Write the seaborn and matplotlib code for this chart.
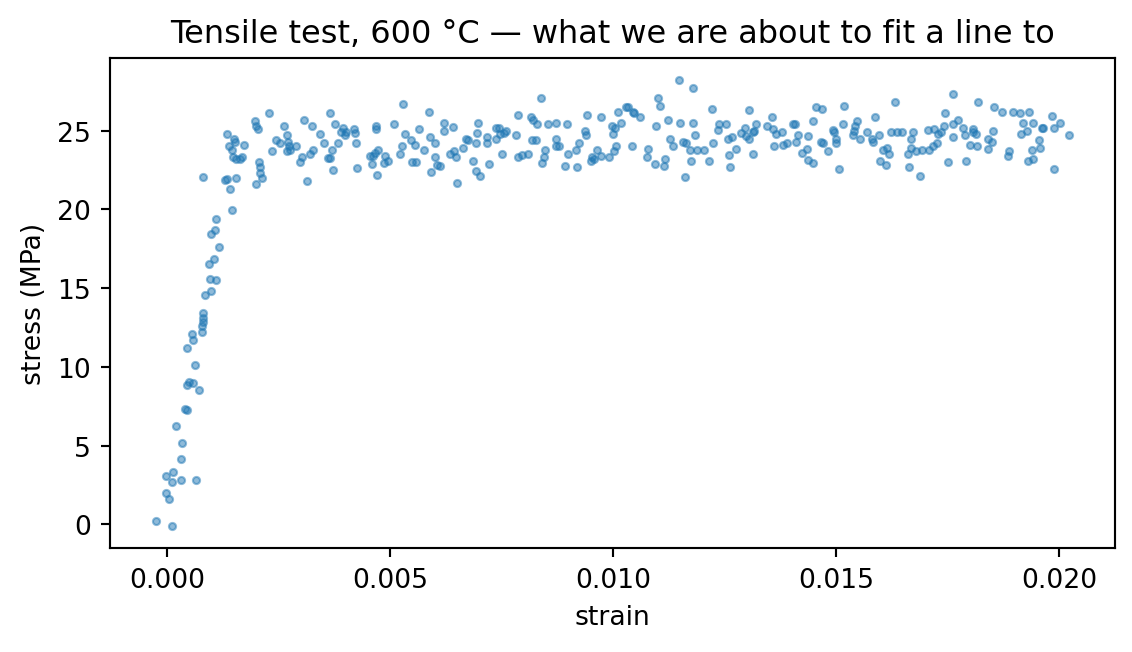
import numpy as np
import pandas as pd
import seaborn as sns
import matplotlib
matplotlib.use("Agg")
import matplotlib.pyplot as plt

# strain, in units of 1e-3
strain_milli = [
    -0.263, 0.104, -0.038, 0.036, -0.038, 0.119, 0.104, 0.305, 0.642, 0.298,
    0.321, 0.193, 0.388, 0.433, 0.433, 0.493, 0.575, 0.710, 0.619, 0.440,
    0.575, 0.545, 0.776, 0.785, 0.792, 0.799, 0.799, 0.844, 0.978, 0.956,
    1.099, 0.927, 1.055, 1.158, 0.972, 1.078, 1.099, 1.459, 0.799,
    2.280, 1.959, 1.997, 2.042, 1.338, 1.488, 1.510, 1.375, 1.719, 1.459,
    1.472, 1.549, 1.668, 1.638, 2.056, 2.072, 2.072, 2.116, 1.997, 1.286,
    1.338, 1.549, 1.398, 2.610, 2.678, 2.438, 2.520, 2.706, 2.729, 2.356,
    2.684, 2.760, 2.886, 3.065, 3.245, 3.418, 3.508, 3.268, 3.209, 3.030,
    2.969, 3.142, 3.643, 3.755, 3.694, 3.828, 3.613, 3.649, 3.716, 3.940,
    4.002, 3.905, 3.979, 4.187, 4.219, 4.242, 4.248, 4.540,
    5.287, 5.871, 4.674, 4.690, 5.085, 5.325, 5.646, 5.476, 5.550, 5.893,
    6.006, 5.759, 6.208, 6.201, 6.396, 5.258, 5.213, 4.726, 4.653, 4.614,
    4.877, 4.951, 4.854, 4.592, 5.490, 5.588, 4.704, 6.006, 6.037, 6.111,
    5.909, 6.335, 6.432, 6.470, 6.500, 6.633, 6.710, 6.733, 6.912, 6.935,
    6.971, 6.859, 6.919, 7.024, 7.211, 7.172, 7.172, 7.367, 7.442, 7.383,
    7.458, 7.547, 7.607, 7.509, 7.817, 7.861, 7.868,
    8.377, 8.153, 8.205, 8.281, 8.541, 8.720, 8.967, 8.182, 8.272, 8.708,
    8.729, 8.788, 8.467, 8.079, 7.945, 8.452, 8.393, 8.916, 9.186, 8.990,
    9.170, 9.230, 9.372, 9.394, 9.417, 9.724, 9.627, 9.515, 9.573, 9.500,
    9.724, 9.911, 10.023, 10.054, 9.986, 9.964, 10.039, 10.173, 10.112, 10.285,
    10.336, 10.449, 10.471, 10.599, 10.427, 10.786, 10.763, 10.935, 10.965, 10.997,
    11.048, 11.145, 11.161,
    11.481, 11.788, 11.234, 11.497, 11.788, 12.208, 11.273, 11.347, 11.571, 11.632,
    11.840, 11.721, 11.885, 12.042, 12.244, 11.744, 12.154, 11.609, 12.379, 12.357,
    12.522, 12.567, 12.657, 12.754, 12.597, 12.619, 13.045, 12.956, 12.866, 12.978,
    13.052, 13.129, 13.157, 13.196, 13.141, 13.568, 13.456, 13.591, 13.651, 13.793,
    13.614, 13.815, 13.891, 14.026, 14.078, 14.152, 14.094, 14.228, 14.354, 14.376,
    14.376,
    14.542, 14.691, 14.488, 15.177, 14.488, 14.661, 14.713, 14.825, 14.937, 14.960,
    14.991, 14.991, 15.072, 15.162, 15.462, 15.424, 15.402, 15.386, 15.536, 15.701,
    15.799, 15.822, 15.962, 15.873, 16.046, 16.136, 16.188, 15.985, 16.120, 16.321,
    16.232, 16.360, 16.472, 16.732, 16.681, 16.681, 16.620, 16.636, 16.883, 16.787,
    16.921, 17.069, 17.203, 17.091, 17.181, 17.258, 17.294, 17.354, 17.428, 17.444,
    17.518, 17.630, 17.630, 17.617,
    18.191, 18.543, 18.730, 18.977, 19.127, 19.336, 19.839, 17.742, 17.841, 17.893,
    18.065, 18.079, 18.140, 18.005, 18.156, 18.528, 18.415, 18.506, 18.415, 17.916,
    18.887, 18.865, 19.201, 19.412, 19.277, 19.143, 19.614, 19.636, 19.890, 20.024,
    20.234, 19.560, 19.403, 19.576, 19.425, 19.313, 19.896,
]

stress = [
    0.23, -0.10, 2.00, 1.60, 3.10, 3.35, 2.70, 2.85, 2.85, 4.15,
    5.20, 6.27, 7.34, 7.26, 8.84, 9.05, 9.00, 8.52, 10.10, 11.18,
    11.69, 12.09, 12.24, 12.57, 12.87, 13.08, 13.42, 14.54, 14.85, 15.60,
    15.55, 16.56, 16.84, 17.60, 18.46, 18.67, 19.41, 19.94, 22.09,
    26.1, 25.6, 25.3, 25.1, 24.8, 24.5, 24.3, 24.0, 24.1, 23.8,
    23.3, 23.2, 23.3, 23.2, 23.0, 22.7, 22.3, 22.0, 21.6, 21.85,
    21.96, 22.0, 21.3, 25.3, 24.7, 24.4, 24.2, 24.3, 24.0, 23.7,
    23.7, 23.8, 24.0, 25.7, 25.3, 24.8, 24.2, 23.75, 23.5, 23.3,
    23.0, 21.8, 26.1, 25.4, 23.8, 24.2, 23.25, 23.25, 22.5, 25.2,
    24.95, 24.9, 24.7, 25.1, 24.85, 24.2, 22.65, 23.4,
    26.7, 26.2, 25.3, 25.1, 25.4, 24.8, 25.1, 24.4, 24.1, 24.6,
    24.2, 23.8, 25.5, 25.0, 25.25, 24.0, 23.5, 23.8, 23.6, 23.4,
    23.4, 23.1, 22.95, 22.9, 23.0, 23.0, 22.2, 23.3, 22.8, 22.75,
    22.4, 23.5, 23.7, 23.3, 21.7, 23.9, 24.5, 24.4, 24.2, 24.85,
    25.5, 23.05, 22.45, 22.15, 22.9, 24.6, 24.2, 25.2, 25.2, 24.5,
    24.8, 24.85, 25.0, 23.5, 24.75, 26.0, 23.3,
    27.1, 25.9, 25.7, 25.4, 25.45, 25.5, 25.45, 24.4, 24.4, 24.5,
    24.0, 24.05, 23.75, 23.5, 23.45, 23.3, 22.95, 22.75, 22.7, 23.5,
    23.8, 24.25, 25.0, 24.7, 26.0, 25.9, 23.8, 23.3, 23.2, 23.05,
    23.4, 23.3, 23.7, 24.0, 24.8, 25.3, 25.2, 25.5, 26.2, 26.5,
    26.5, 26.2, 26.1, 25.9, 24.05, 23.85, 23.3, 22.9, 25.3, 27.1,
    26.6, 22.75, 23.2,
    28.2, 27.7, 25.7, 25.5, 25.5, 26.4, 24.5, 24.0, 24.3, 24.25,
    24.7, 23.8, 23.8, 23.8, 24.2, 23.05, 23.05, 22.05, 25.4, 25.05,
    25.4, 24.5, 24.6, 23.85, 23.45, 22.7, 26.3, 25.2, 24.85, 24.65,
    24.5, 24.9, 25.0, 25.4, 23.5, 25.9, 25.3, 25.1, 24.8, 24.9,
    24.05, 24.1, 24.2, 25.45, 25.45, 24.7, 24.3, 23.6, 23.85, 23.15,
    24.65,
    26.5, 26.4, 25.6, 26.6, 22.95, 24.3, 24.2, 23.7, 25.05, 24.9,
    24.5, 24.2, 22.6, 25.4, 25.6, 25.3, 25.0, 24.75, 24.5, 24.9,
    24.5, 24.3, 24.7, 25.9, 23.8, 23.9, 23.5, 23.1, 22.85, 26.8,
    24.9, 24.9, 24.9, 24.95, 24.5, 23.9, 23.5, 22.7, 22.1, 23.7,
    23.75, 25.05, 25.1, 23.75, 24.0, 24.2, 24.8, 24.95, 25.3, 26.1,
    23.0, 27.3, 25.4, 24.6,
    26.8, 26.5, 26.2, 26.2, 26.1, 26.2, 25.95, 25.7, 25.2, 24.75,
    25.1, 24.9, 24.8, 24.1, 24.0, 25.0, 24.5, 24.3, 23.85, 23.1,
    23.7, 23.4, 25.5, 25.5, 25.0, 24.8, 25.2, 25.2, 25.2, 25.5,
    24.75, 24.4, 23.8, 23.9, 23.2, 23.1, 22.6,
]

df = pd.DataFrame({"strain": np.array(strain_milli) * 1e-3, "stress": stress})

fig, ax = plt.subplots(figsize=(5.901, 3.401), dpi=192)
sns.scatterplot(data=df, x="strain", y="stress", ax=ax, s=7, alpha=0.5,
                color="#1f77b4", edgecolor="#1f77b4", linewidth=0.8)
ax.set_title("Tensile test, 600 °C — what we are about to fit a line to")
ax.set_xlabel("strain")
ax.set_ylabel("stress (MPa)")
fig.subplots_adjust(left=0.0971, right=0.9841, top=0.9096, bottom=0.1588)
fig.savefig("out.png", dpi=192)
